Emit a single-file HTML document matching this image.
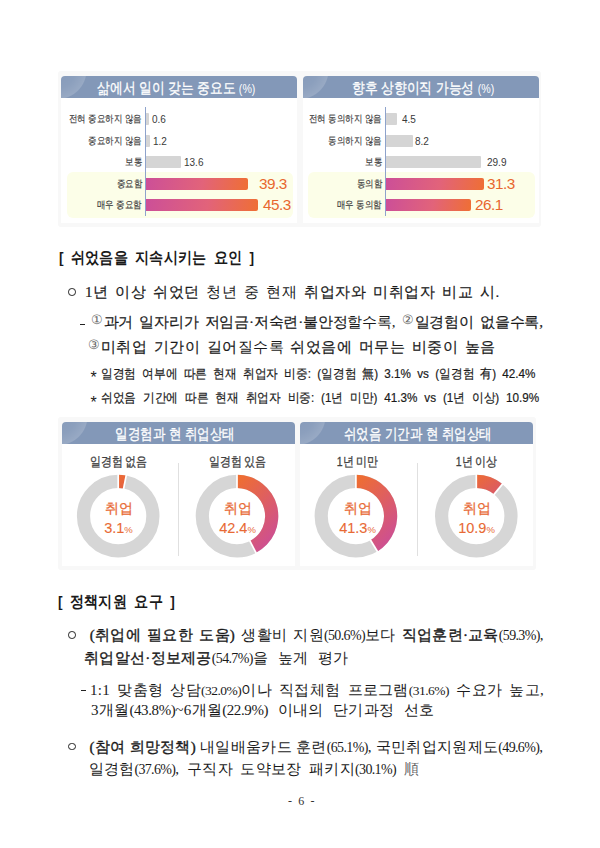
<!DOCTYPE html>
<html><head><meta charset="utf-8">
<style>
html,body{margin:0;padding:0;background:#fff;width:600px;height:848px;overflow:hidden;position:relative}
.a{position:absolute;white-space:nowrap;line-height:1}
.sans{font-family:"Liberation Sans",sans-serif}
.serif{font-family:"Liberation Serif",serif}
.frame{position:absolute;background:#f8f8f8;border-radius:3px}
.inner{position:absolute;background:#fff}
.hdr{position:absolute;background:radial-gradient(circle 29.5px at -3.5px -6px,rgba(255,255,255,0.02) 0,rgba(255,255,255,0.07) 18px,rgba(255,255,255,0.17) 28.5px,rgba(255,255,255,0) 29.5px),#8398b8;border-radius:4px 4px 0 0;overflow:hidden}
.ht{position:absolute;white-space:nowrap;line-height:16px;color:#fff;font-family:"Liberation Sans",sans-serif;font-size:15px;-webkit-text-stroke:0.3px #fff;transform-origin:0 0}
.pc{font-size:12.5px;-webkit-text-stroke:0}
.hl{position:absolute;background:#fcfee8;border-radius:6px}
.axis{position:absolute;width:1px;background:#8ea3cc}
.bar{position:absolute;height:12px;background:#d5d5d5;border-radius:0 1px 1px 0}
.gbar{position:absolute;height:12px;background:linear-gradient(100deg,#cc4f98 0%,#e2637a 55%,#ef6f34 100%);border-radius:0 2px 2px 0}
.lbl{position:absolute;font-family:"Liberation Sans",sans-serif;font-size:10px;color:#3a3a3a;text-align:right;white-space:nowrap;line-height:12px;transform:scaleX(0.85);transform-origin:100% 0;-webkit-text-stroke:0.15px #3a3a3a}
.val{position:absolute;margin-top:1px;font-family:"Liberation Sans",sans-serif;font-size:10px;color:#3a3a3a;white-space:nowrap;line-height:12px}
.big{position:absolute;letter-spacing:-0.5px;font-family:"Liberation Sans",sans-serif;font-size:15.3px;color:#e8672f;white-space:nowrap;line-height:14px}
.txt{color:#1a1a1a}
.dt{position:absolute;font-family:"Liberation Sans",sans-serif;font-size:12.5px;color:#404040;text-align:center;white-space:nowrap;line-height:14px;transform:scaleX(0.84);-webkit-text-stroke:0.3px #404040}
.dc{position:absolute;font-family:"Liberation Sans",sans-serif;font-size:14px;color:#e86a35;text-align:center;white-space:nowrap;line-height:16px;-webkit-text-stroke:0.25px #e86a35}
.dv{position:absolute;letter-spacing:0px;font-family:"Liberation Sans",sans-serif;font-size:14.5px;color:#e86a35;text-align:center;white-space:nowrap;line-height:16px;-webkit-text-stroke:0.1px #e86a35}
.dv small{font-size:9.5px;-webkit-text-stroke:0}
.circ{position:absolute;width:5.6px;height:5.6px;border:1.1px solid #222;border-radius:50%}
.dash{position:absolute;width:4.5px;height:1.3px;background:#222}
.sup{font-size:12.5px;color:#666;vertical-align:3px;letter-spacing:1px;-webkit-text-stroke:0}
.p{font-size:14px;letter-spacing:-0.65px}
.p2{font-size:15px;letter-spacing:-0.4px}
.p3{font-size:13.5px;letter-spacing:-0.5px}
.br{font-weight:normal}
b{font-weight:400;-webkit-text-stroke:0.35px #1a1a1a}
.m{-webkit-text-stroke:0.2px #1a1a1a}


</style></head><body>

<!-- ===== Top chart panel ===== -->
<div class="frame" style="left:58px;top:71px;width:483px;height:156px"></div>
<div class="inner" style="left:61px;top:97px;width:236px;height:126px"></div>
<div class="inner" style="left:303px;top:97px;width:236px;height:126px"></div>
<div class="hdr" style="left:61px;top:76px;width:236px;height:22px"></div>
<div id="h1" class="ht" style="left:97px;top:80px;transform:scaleX(0.851)">삶에서 일이 갖는 중요도 <span class="pc">(%)</span></div>
<div class="hdr" style="left:303px;top:76px;width:236px;height:22px"></div>
<div id="h2" class="ht" style="left:351.6px;top:80px;transform:scaleX(0.852)">향후 상향이직 가능성 <span class="pc">(%)</span></div>

<!-- left chart -->
<div class="hl" style="left:67px;top:172px;width:226px;height:46px"></div>
<div class="axis" style="left:145px;top:107px;height:109px"></div>
<div class="lbl" style="right:458.5px;top:113px">전혀 중요하지 않음</div>
<div class="lbl" style="right:458.5px;top:135px">중요하지 않음</div>
<div class="lbl" style="right:458.5px;top:156px">보통</div>
<div class="lbl" style="right:458.5px;top:178px">중요함</div>
<div class="lbl" style="right:458.5px;top:199px">매우 중요함</div>
<div class="bar" style="left:146px;top:113px;width:3px"></div>
<div class="bar" style="left:146px;top:135px;width:4px"></div>
<div class="bar" style="left:146px;top:156px;width:35px"></div>
<div class="gbar" style="left:146px;top:178px;width:102px"></div>
<div class="gbar" style="left:146px;top:199px;width:112px"></div>
<div class="val" style="left:152px;top:113px">0.6</div>
<div class="val" style="left:153px;top:135px">1.2</div>
<div class="val" style="left:184px;top:156px">13.6</div>
<div class="big" style="left:259px;top:177px">39.3</div>
<div class="big" style="left:263px;top:198px">45.3</div>

<!-- right chart -->
<div class="hl" style="left:308px;top:172px;width:227px;height:46px"></div>
<div class="axis" style="left:385px;top:107px;height:109px"></div>
<div class="lbl" style="right:218.5px;top:113px">전혀 동의하지 않음</div>
<div class="lbl" style="right:218.5px;top:135px">동의하지 않음</div>
<div class="lbl" style="right:218.5px;top:156px">보통</div>
<div class="lbl" style="right:218.5px;top:178px">동의함</div>
<div class="lbl" style="right:218.5px;top:199px">매우 동의함</div>
<div class="bar" style="left:386px;top:113px;width:11px"></div>
<div class="bar" style="left:386px;top:135px;width:27px"></div>
<div class="bar" style="left:386px;top:156px;width:95px"></div>
<div class="gbar" style="left:386px;top:178px;width:98px"></div>
<div class="gbar" style="left:386px;top:199px;width:85px"></div>
<div class="val" style="left:402px;top:113px">4.5</div>
<div class="val" style="left:415px;top:135px">8.2</div>
<div class="val" style="left:487px;top:156px">29.9</div>
<div class="big" style="left:487px;top:177px">31.3</div>
<div class="big" style="left:475px;top:198px">26.1</div>

<!-- ===== Section 1 text ===== -->
<div id="t1" class="a sans txt" style="left:59.00px;top:250.0px;font-size:15.5px;font-weight:bold;word-spacing:4.500px;transform:scaleX(0.88);transform-origin:0 0">[ 쉬었음을 지속시키는 요인 ]</div>
<div class="circ" style="left:68.4px;top:288.3px"></div>
<div id="t2" class="a serif txt" style="left:85.00px;top:285px;font-size:15px;letter-spacing:0.6px;word-spacing:2.222px"><b class="m">1년 이상 쉬었던</b> 청년 중 현재 <span class="m">취업자와 미취업자 비교 시.</span></div>
<div class="dash" style="left:80px;top:323.5px"></div>
<div id="t3" class="a serif txt" style="left:90.50px;top:313.5px;font-size:15px;letter-spacing:-0.2px;word-spacing:2.625px"><span class="sup">①</span><span class="m">과거 일자리가 저임금·저숙련·불안정</span>할수록, <span class="sup">②</span><span class="m">일경험이 없을수록,</span></div>
<div id="t4" class="a serif txt" style="left:87.80px;top:338.5px;font-size:15px;letter-spacing:0.5px;word-spacing:2.135px"><span class="sup">③</span><span class="m">미취업 기간이 길어</span>질수록 <span class="m">쉬었음에 머무는 비중이 높음</span></div>
<div class="a sans txt" style="left:90.5px;top:370.2px;font-size:16px">*</div>
<div id="t5" class="a sans txt" style="left:101.00px;top:367px;font-size:13px;word-spacing:3.332px;-webkit-text-stroke:0.2px #1a1a1a;transform:scaleX(0.9);transform-origin:0 0">일경험 여부에 따른 현재 취업자 비중: (일경험 無) 3.1% vs (일경험 有) 42.4%</div>
<div class="a sans txt" style="left:90.5px;top:394.5px;font-size:16px">*</div>
<div id="t6" class="a sans txt" style="left:101.00px;top:391px;font-size:13px;word-spacing:4.042px;-webkit-text-stroke:0.2px #1a1a1a;transform:scaleX(0.9);transform-origin:0 0">쉬었음 기간에 따른 현재 취업자 비중: (1년 미만) 41.3% vs (1년 이상) 10.9%</div>

<!-- ===== Donut panel ===== -->
<div class="frame" style="left:58px;top:417px;width:478px;height:153px"></div>
<div class="inner" style="left:62px;top:443px;width:232.5px;height:123px"></div>
<div class="inner" style="left:300px;top:443px;width:232.5px;height:123px"></div>
<div class="hdr" style="left:62px;top:421.5px;width:232.5px;height:22px"></div>
<div id="h3" class="ht" style="left:115px;top:426px;transform:scaleX(0.835)">일경험과 현 취업상태</div>
<div class="hdr" style="left:300px;top:421.5px;width:232.5px;height:22px"></div>
<div id="h4" class="ht" style="left:344.2px;top:426px;transform:scaleX(0.833)">쉬었음 기간과 현 취업상태</div>

<svg class="a" style="left:0;top:0" width="600" height="848" viewBox="0 0 600 848">
<defs><linearGradient id="dg" x1="0.1" y1="0" x2="0.7" y2="1"><stop offset="0" stop-color="#ef6e30"/><stop offset="1" stop-color="#cc4e96"/></linearGradient><linearGradient id="dg1" x1="0" y1="0" x2="0.6" y2="1"><stop offset="0" stop-color="#ee6c33"/><stop offset="1" stop-color="#e4603f"/></linearGradient><linearGradient id="dg4" x1="0" y1="0" x2="1" y2="1"><stop offset="0" stop-color="#ee6c33"/><stop offset="1" stop-color="#d6576f"/></linearGradient></defs>
<circle cx="118.2" cy="516.1" r="34.70" fill="none" stroke="#d6d6d6" stroke-width="13.20"/>
<path d="M118.20,474.80 A41.3,41.3 0 0 1 126.19,475.58 L123.64,488.53 A28.1,28.1 0 0 0 118.20,488.00 Z" fill="url(#dg1)"/>
<line x1="118.2" y1="489.0" x2="118.2" y2="473.8" stroke="#fff" stroke-width="1.7"/><line x1="123.45" y1="489.51" x2="126.39" y2="474.60" stroke="#fff" stroke-width="1.7"/>
<circle cx="237" cy="516.1" r="34.70" fill="none" stroke="#d6d6d6" stroke-width="13.20"/>
<path d="M237.00,474.80 A41.3,41.3 0 0 1 255.98,552.78 L249.91,541.06 A28.1,28.1 0 0 0 237.00,488.00 Z" fill="url(#dg)"/>
<line x1="237" y1="489.0" x2="237" y2="473.8" stroke="#fff" stroke-width="1.7"/><line x1="249.45" y1="540.17" x2="256.44" y2="553.67" stroke="#fff" stroke-width="1.7"/>
<circle cx="355.9" cy="516.1" r="34.70" fill="none" stroke="#d6d6d6" stroke-width="13.20"/>
<path d="M355.90,474.80 A41.3,41.3 0 0 1 377.37,551.38 L370.51,540.11 A28.1,28.1 0 0 0 355.90,488.00 Z" fill="url(#dg)"/>
<line x1="355.9" y1="489.0" x2="355.9" y2="473.8" stroke="#fff" stroke-width="1.7"/><line x1="369.99" y1="539.25" x2="377.89" y2="552.24" stroke="#fff" stroke-width="1.7"/>
<circle cx="476.3" cy="516.1" r="34.70" fill="none" stroke="#d6d6d6" stroke-width="13.20"/>
<path d="M476.30,474.80 A41.3,41.3 0 0 1 502.43,484.11 L494.08,494.34 A28.1,28.1 0 0 0 476.30,488.00 Z" fill="url(#dg4)"/>
<line x1="476.3" y1="489.0" x2="476.3" y2="473.8" stroke="#fff" stroke-width="1.7"/><line x1="493.44" y1="495.11" x2="503.06" y2="483.34" stroke="#fff" stroke-width="1.7"/>
<line x1="178.5" y1="463" x2="178.5" y2="556" stroke="#e0e0e0" stroke-width="1"/>
<line x1="417.5" y1="463" x2="417.5" y2="556" stroke="#e0e0e0" stroke-width="1"/>
</svg>
<div class="dt" style="left:58px;top:455px;width:121px">일경험 없음</div>
<div class="dt" style="left:178px;top:455px;width:119px">일경험 있음</div>
<div class="dt" style="left:298px;top:455px;width:119px">1년 미만</div>
<div class="dt" style="left:417px;top:455px;width:119px">1년 이상</div>
<div class="dc" style="left:58px;top:500px;width:121px">취업</div>
<div class="dc" style="left:178px;top:500px;width:119px">취업</div>
<div class="dc" style="left:298px;top:500px;width:119px">취업</div>
<div class="dc" style="left:417px;top:500px;width:119px">취업</div>
<div class="dv" style="left:58px;top:520px;width:121px">3.1<small>%</small></div>
<div class="dv" style="left:178px;top:520px;width:119px">42.4<small>%</small></div>
<div class="dv" style="left:298px;top:520px;width:119px">41.3<small>%</small></div>
<div class="dv" style="left:417px;top:520px;width:119px">10.9<small>%</small></div>

<!-- ===== Section 2 text ===== -->
<div id="t7" class="a sans txt" style="left:58.40px;top:594px;font-size:15.5px;font-weight:bold;word-spacing:4.534px;transform:scaleX(0.88);transform-origin:0 0">[ 정책지원 요구 ]</div>
<div class="circ" style="left:68.3px;top:631.3px"></div>
<div id="t8" class="a serif txt" style="left:89.80px;top:628px;font-size:15px;letter-spacing:0.3px;word-spacing:2.120px"><b>(취업에 필요한 도움)</b> 생활비 지원<span class="p">(50.6%)</span>보다 <b>직업훈련·교육</b><span class="p">(59.3%)</span>,</div>
<div id="t9" class="a serif txt" style="left:84.10px;top:651px;font-size:15px;letter-spacing:0.3px;word-spacing:5.600px"><b>취업알선·정보제공</b><span class="p">(54.7%)</span>을 높게 평가</div>
<div class="dash" style="left:81px;top:690px"></div>
<div id="t10" class="a serif txt" style="left:90.00px;top:683px;font-size:15px;letter-spacing:0.3px;word-spacing:3.150px">1:1 맞춤형 상담<span class="p3">(32.0%)</span>이나 직접체험 프로그램<span class="p3">(31.6%)</span> 수요가 높고,</div>
<div id="t11" class="a serif txt" style="left:91.00px;top:703px;font-size:15px;letter-spacing:0.3px;word-spacing:5.499px">3개월<span class="p2">(43.8%)</span>~6개월<span class="p2">(22.9%)</span> 이내의 단기과정 선호</div>
<div class="circ" style="left:68.3px;top:742.5px"></div>
<div id="t12" class="a serif txt" style="left:89.50px;top:740px;font-size:15px;letter-spacing:0.3px;word-spacing:0.100px"><b>(참여 희망정책)</b> 내일배움카드 훈련<span class="p">(65.1%)</span>, 국민취업지원제도<span class="p">(49.6%)</span>,</div>
<div id="t13" class="a serif txt" style="left:88.50px;top:762px;font-size:15px;letter-spacing:0.3px;word-spacing:3.500px">일경험<span class="p">(37.6%)</span>, 구직자 도약보장 패키지<span class="p">(30.1%)</span> <span style="color:#666">順</span></div>
<div id="t14" class="a serif txt" style="left:288px;top:794.5px;font-size:12px;color:#333;letter-spacing:1.6px">- 6 -</div>

</body></html>
